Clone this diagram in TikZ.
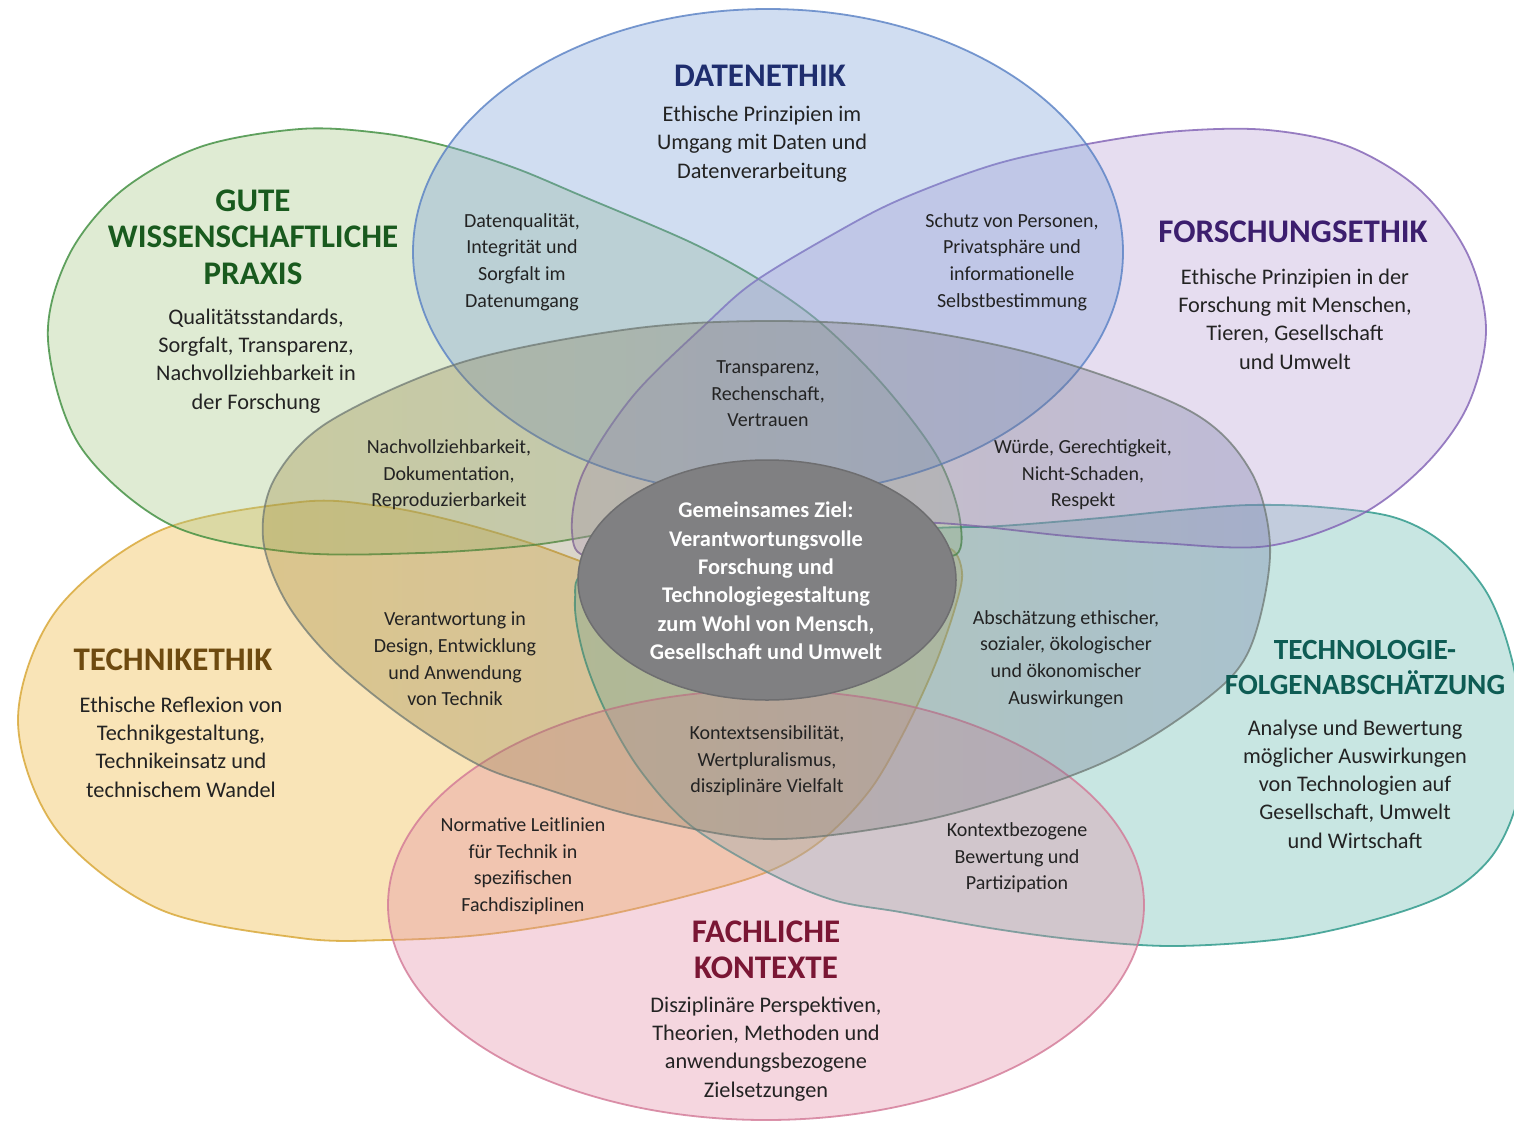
\documentclass[tikz,border=0pt]{standalone}
\usepackage{fontspec}
\setmainfont{Carlito}
\definecolor{bluefill}{RGB}{122,159,217}
\definecolor{blueline}{RGB}{88,128,196}
\definecolor{greenfill}{RGB}{165,198,130}
\definecolor{greenline}{RGB}{60,140,60}
\definecolor{purplefill}{RGB}{185,158,214}
\definecolor{purpleline}{RGB}{128,96,180}
\definecolor{yellowfill}{RGB}{240,180,50}
\definecolor{yellowline}{RGB}{215,165,50}
\definecolor{tealfill}{RGB}{98,184,173}
\definecolor{tealline}{RGB}{40,150,135}
\definecolor{pinkfill}{RGB}{228,140,165}
\definecolor{pinkline}{RGB}{210,120,150}
\definecolor{gleft}{RGB}{150,128,45}
\definecolor{gright}{RGB}{100,110,160}
\definecolor{gline}{RGB}{110,120,115}
\definecolor{centerfill}{RGB}{128,128,130}
\definecolor{centerline}{RGB}{110,110,112}
\definecolor{bodytext}{RGB}{35,35,35}
\definecolor{tblue}{RGB}{30,45,110}
\definecolor{tgreen}{RGB}{25,90,30}
\definecolor{tpurple}{RGB}{60,30,110}
\definecolor{tbrown}{RGB}{110,74,16}
\definecolor{tteal}{RGB}{14,92,84}
\definecolor{tred}{RGB}{122,22,52}
\begin{document}
\begin{tikzpicture}[x=1pt,y=-1pt,
  petal/.style={line width=1.8pt, fill opacity=0.35, draw opacity=0.8},
  title/.style={align=center, inner sep=0pt, font=\fontsize{33}{36.5}\selectfont\bfseries},
  smalltitle/.style={align=center, inner sep=0pt, font=\fontsize{29.3}{35}\selectfont\bfseries},
  body/.style={align=center, inner sep=0pt, text=bodytext, font=\fontsize{22.3}{28.3}\selectfont},
  isect/.style={align=center, inner sep=0pt, text=bodytext, font=\fontsize{20}{26.6}\selectfont},
  goal/.style={align=center, inner sep=0pt, text=white, font=\fontsize{22.4}{28.4}\selectfont\bfseries}]
\useasboundingbox (0,0) rectangle (1514,1122);
\fill[white] (0,0) rectangle (1514,1122);
\begin{scope}
\clip (0,0) rectangle (1514,1122);
% yellow (Technikethik)
\filldraw[petal, fill=yellowfill, draw=yellowline] plot[smooth cycle, tension=0.55] coordinates {
 (18,720) (56,611) (159,531) (300,502) (380,506) (450,520) (530,543) (600,568) (680,592)
 (800,590) (900,560) (948,548) (962,572) (955,608) (935,665) (905,730) (870,790) (822,840)
 (767,872) (683,897) (582,920) (480,935) (388,940) (300,938) (159,909) (56,829)};
% teal (Technologiefolgenabschaetzung)
\filldraw[petal, fill=tealfill, draw=tealline] plot[smooth cycle, tension=0.55] coordinates {
 (1250,505) (1320,507) (1393,517) (1443,543) (1487,593) (1512,660) (1523,740) (1516,805)
 (1492,856) (1450,892) (1384,917) (1290,938) (1176,946) (1080,940) (996,929) (900,912) (833,900)
 (767,872) (690,825) (640,770) (605,710) (583,653) (575,600) (590,570) (700,548) (850,535)
 (935,528) (1000,526) (1100,518) (1180,510)};
% green (Gute wissenschaftliche Praxis)
\filldraw[petal, fill=greenfill, draw=greenline] plot[smooth cycle, tension=0.55] coordinates {
 (48,340) (68,257) (120,192) (200,147) (300,129) (380,133) (446,146) (515,168) (582,196) (690,242)
 (760,280) (822,324) (885,387) (938,458) (960,520) (952,556) (880,530) (760,518) (630,530)
 (533,545) (420,553) (290,552) (169,524) (80,446)};
% purple (Forschungsethik)
\filldraw[petal, fill=purplefill, draw=purpleline] plot[smooth cycle, tension=0.55] coordinates {
 (572,532) (583,473) (633,396) (707,323) (754,282) (830,236) (899,200) (996,164) (1093,143)
 (1180,131) (1268,130) (1350,147) (1420,190) (1468,255) (1486,330) (1468,405) (1425,465)
 (1360,515) (1268,546) (1160,543) (1067,536) (938,523) (800,522) (680,535) (590,556)};
% pink (Fachliche Kontexte)
\filldraw[petal, fill=pinkfill, draw=pinkline] (766,905) ellipse [x radius=378pt, y radius=215pt];
% blue (Datenethik)
\filldraw[petal, fill=bluefill, draw=blueline] (768,252) ellipse [x radius=355pt, y radius=243pt];
% large common zone: tinted fill as a transparency group, then outline
\begin{scope}[transparency group, opacity=0.3]
\shade[left color=gleft, right color=gright]
 plot[smooth cycle, tension=0.55] coordinates {
 (263,538) (275,478) (330,421) (463,362) (630,329) (767,321) (900,328) (1045,357) (1190,411)
 (1250,470) (1270,545) (1258,625) (1233,675) (1170,725) (1100,764) (1000,800) (900,825)
 (767,839) (640,817) (540,787) (477,764) (400,715) (330,657) (285,600)};
\end{scope}
\draw[line width=1.8pt, draw=gline, draw opacity=0.75]
 plot[smooth cycle, tension=0.55] coordinates {
 (263,538) (275,478) (330,421) (463,362) (630,329) (767,321) (900,328) (1045,357) (1190,411)
 (1250,470) (1270,545) (1258,625) (1233,675) (1170,725) (1100,764) (1000,800) (900,825)
 (767,839) (640,817) (540,787) (477,764) (400,715) (330,657) (285,600)};
% centre
\filldraw[line width=1.5pt, fill=centerfill, draw=centerline] (767,580) ellipse [x radius=189pt, y radius=120pt];
\end{scope}
% titles
\node[title, text=tblue] (tdat) at (760,76) {DATENETHIK};
\node[title, text=tgreen] (tgwp) at (253,237) {GUTE\\WISSENSCHAFTLICHE\\PRAXIS};
\node[title, text=tpurple] (tfor) at (1293,232) {FORSCHUNGSETHIK};
\node[title, text=tbrown] (ttec) at (173,660) {TECHNIKETHIK};
\node[smalltitle, text=tteal] (ttfa) at (1365,667) {TECHNOLOGIE-\\FOLGENABSCHÄTZUNG};
\node[title, text=tred] (tfk) at (766,950) {FACHLICHE\\KONTEXTE};
% bodies
\node[body] (bdat) at (762,144) {Ethische Prinzipien im\\Umgang mit Daten und\\Datenverarbeitung};
\node[body] (bgwp) at (256,361) {Qualitätsstandards,\\Sorgfalt, Transparenz,\\Nachvollziehbarkeit in\\der Forschung};
\node[body] (bfor) at (1295,319) {Ethische Prinzipien in der\\Forschung mit Menschen,\\Tieren, Gesellschaft\\und Umwelt};
\node[body] (btec) at (181,747) {Ethische Reflexion von\\Technikgestaltung,\\Technikeinsatz und\\technischem Wandel};
\node[body] (btfa) at (1355,784) {Analyse und Bewertung\\möglicher Auswirkungen\\von Technologien auf\\Gesellschaft, Umwelt\\und Wirtschaft};
\node[body] (bfk) at (766,1049) {Disziplinäre Perspektiven,\\Theorien, Methoden und\\anwendungsbezogene\\Zielsetzungen};
% intersections
\node[isect] (i1) at (522,262) {Datenqualität,\\Integrität und\\Sorgfalt im\\Datenumgang};
\node[isect] (i2) at (1012,262) {Schutz von Personen,\\Privatsphäre und\\informationelle\\Selbstbestimmung};
\node[isect] (i3) at (768,394) {Transparenz,\\Rechenschaft,\\Vertrauen};
\node[isect] (i4) at (449,475) {Nachvollziehbarkeit,\\Dokumentation,\\Reproduzierbarkeit};
\node[isect] (i5) at (1083,475) {Würde, Gerechtigkeit,\\Nicht-Schaden,\\Respekt};
\node[isect] (i6) at (455,659) {Verantwortung in\\Design, Entwicklung\\und Anwendung\\von Technik};
\node[isect] (i7) at (1066,659) {Abschätzung ethischer,\\sozialer, ökologischer\\und ökonomischer\\Auswirkungen};
\node[isect] (i8) at (767,761) {Kontextsensibilität,\\Wertpluralismus,\\disziplinäre Vielfalt};
\node[isect] (i9) at (523,866) {Normative Leitlinien\\für Technik in\\spezifischen\\Fachdisziplinen};
\node[isect] (i10) at (1017,858) {Kontextbezogene\\Bewertung und\\Partizipation};
% goal
\node[goal] (goal) at (766,581) {Gemeinsames Ziel:\\Verantwortungsvolle\\Forschung und\\Technologiegestaltung\\zum Wohl von Mensch,\\Gesellschaft und Umwelt};
\end{tikzpicture}
\end{document}
